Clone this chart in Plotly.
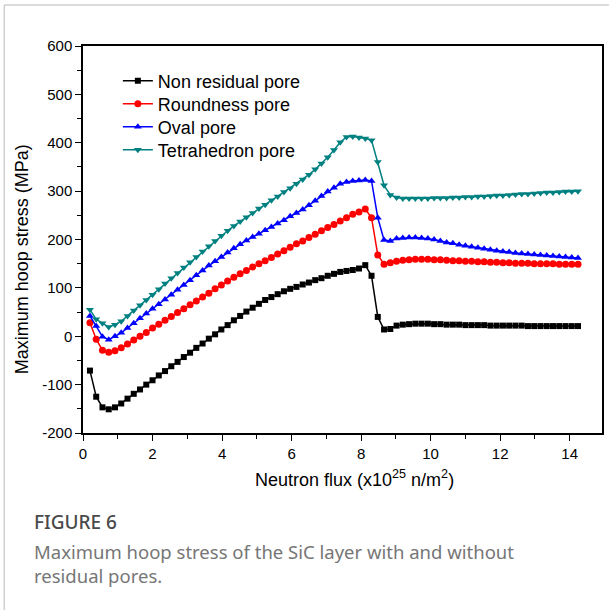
import plotly.graph_objects as go

flux = [0.20, 0.38, 0.56, 0.74, 0.92, 1.10, 1.28, 1.46, 1.64, 1.82,
        2.00, 2.18, 2.36, 2.54, 2.72, 2.90, 3.08, 3.26, 3.44, 3.62,
        3.80, 3.98, 4.16, 4.34, 4.52, 4.70, 4.88, 5.06, 5.24, 5.42,
        5.60, 5.78, 5.96, 6.14, 6.32, 6.50, 6.68, 6.86, 7.04, 7.22,
        7.40, 7.58, 7.76, 7.94, 8.12, 8.30, 8.48, 8.66, 8.84, 9.02,
        9.20, 9.38, 9.56, 9.74, 9.92, 10.10, 10.28, 10.46, 10.64, 10.82,
        11.00, 11.18, 11.36, 11.54, 11.72, 11.90, 12.08, 12.26, 12.44, 12.62,
        12.80, 12.98, 13.16, 13.34, 13.52, 13.70, 13.88, 14.06, 14.24]

non_residual = [-71, -125, -147, -151, -147, -139, -129, -119, -110, -100,
                -91, -81, -72, -62, -53, -43, -34, -24, -15, -5,
                4, 14, 23, 33, 42, 51, 59, 67, 75, 81,
                87, 93, 98, 102, 107, 111, 116, 120, 125, 129,
                133, 135, 137, 140, 147, 125, 40, 14, 15, 22,
                24, 25, 26, 26, 26, 25, 25, 24, 24, 24,
                23, 23, 23, 23, 22, 22, 22, 22, 22, 22,
                21, 21, 21, 21, 21, 21, 21, 21, 21]

roundness = [28, -6, -29, -33, -30, -24, -16, -8, 0, 8,
             17, 25, 33, 41, 49, 57, 65, 73, 81, 89,
             98, 106, 114, 122, 129, 136, 143, 150, 156, 163,
             170, 177, 184, 191, 197, 204, 211, 218, 225, 231,
             238, 245, 252, 257, 263, 245, 168, 149, 152, 155,
             157, 158, 159, 159, 159, 158, 158, 157, 156, 156,
             155, 155, 154, 154, 153, 153, 152, 152, 151, 151,
             151, 150, 150, 150, 150, 149, 149, 149, 149]

oval = [42, 21, -1, -7, 0, 7, 17, 27, 37, 47,
        57, 66, 76, 86, 96, 106, 116, 126, 136, 146,
        155, 164, 173, 182, 190, 198, 205, 212, 219, 226,
        233, 240, 248, 255, 262, 271, 280, 290, 299, 307,
        315, 319, 321, 322, 323, 321, 245, 199, 197, 202,
        203, 204, 204, 203, 202, 200, 197, 194, 192, 189,
        187, 185, 183, 181, 179, 177, 175, 174, 172, 171,
        170, 169, 168, 167, 166, 165, 164, 163, 162]

tetrahedron = [55, 35, 27, 19, 24, 31, 42, 53, 64, 75,
               86, 97, 109, 120, 131, 142, 153, 164, 175, 186,
               197, 208, 218, 228, 237, 246, 255, 264, 272, 281,
               289, 298, 306, 315, 324, 334, 345, 357, 370, 385,
               401, 412, 413, 411, 409, 405, 360, 312, 292, 287,
               285, 285, 285, 285, 285, 286, 286, 286, 287, 287,
               288, 288, 289, 289, 290, 291, 291, 292, 293, 294,
               294, 295, 296, 297, 297, 298, 299, 299, 300]

series_names = ["Non residual pore", "Roundness pore", "Oval pore", "Tetrahedron pore"]
series_values = [non_residual, roundness, oval, tetrahedron]
colors = ["#000000", "#ff0000", "#0000ff", "#008080"]
symbols = ["square", "circle", "triangle-up", "triangle-down"]
sizes = [6, 7, 7, 7]

x_ticks = [0, 2, 4, 6, 8, 10, 12, 14]
x_tick_labels = ["0", "2", "4", "6", "8", "10", "12", "14"]
y_ticks = [-200, -100, 0, 100, 200, 300, 400, 500, 600]
y_tick_labels = ["-200", "-100", "0", "100", "200", "300", "400", "500", "600"]

W, H = 611, 610
L, R, T, B = 83, 604, 46, 433

def px(p):
    return (p - L) / (R - L)

def py(q):
    return (B - q) / (B - T)

AX_FONT = "Liberation Sans, Arial, sans-serif"
CAP_FONT = "Noto Sans, Open Sans, sans-serif"

legend_ids = ["legend", "legend2", "legend3", "legend4"]
legend_rows = [81, 104, 127, 150]

fig = go.Figure()
for name, vals, c, s, sz, lg in zip(series_names, series_values, colors, symbols, sizes, legend_ids):
    fig.add_trace(go.Scatter(
        x=flux, y=vals, name=name, mode="lines+markers",
        line=dict(color=c, width=1.5),
        marker=dict(symbol=s, size=sz, color=c, line=dict(width=0)),
        legend=lg,
    ))

axis_common = dict(
    showline=True, linecolor="black", linewidth=1.5, mirror=True,
    ticks="outside", ticklen=6, tickwidth=1.2, tickcolor="black",
    showgrid=False, zeroline=False,
    tickfont=dict(family=AX_FONT, size=15, color="black"),
    minor=dict(ticks="outside", ticklen=4, tickwidth=1.2, tickcolor="black", showgrid=False),
)

fig.update_xaxes(
    range=[0, 14.93], tickvals=x_ticks, ticktext=x_tick_labels,
    minor_dtick=1, minor_tick0=0,
    **axis_common,
)
fig.update_yaxes(
    range=[-200, 600], tickvals=y_ticks, ticktext=y_tick_labels,
    minor_dtick=50, minor_tick0=0,
    **axis_common,
)

legend_layout = {}
for lg, row in zip(legend_ids, legend_rows):
    legend_layout[lg] = dict(
        x=px(118), y=py(row), xanchor="left", yanchor="middle",
        bgcolor="rgba(0,0,0,0)", borderwidth=0,
        font=dict(family=AX_FONT, size=18, color="black"),
        itemwidth=30,
    )

fig.update_layout(
    width=W, height=H,
    margin=dict(l=L, r=W - R, t=T, b=H - B),
    paper_bgcolor="white", plot_bgcolor="white",
    showlegend=True,
    **legend_layout,
    shapes=[
        dict(type="line", xref="paper", yref="paper", x0=px(4), x1=px(611), y0=py(5), y1=py(5),
             line=dict(color="#cfcfcf", width=1.5)),
        dict(type="line", xref="paper", yref="paper", x0=px(4), x1=px(4), y0=py(5), y1=py(610),
             line=dict(color="#cfcfcf", width=1.5)),
    ],
    annotations=[
        dict(text="Neutron flux (x10<sup>25</sup> n/m<sup>2</sup>)", xref="paper", yref="paper",
             x=px(355.5), y=py(478), xanchor="center", yanchor="middle", showarrow=False,
             font=dict(family=AX_FONT, size=18, color="black")),
        dict(text="Maximum hoop stress (MPa)", xref="paper", yref="paper",
             x=px(22), y=py(259), xanchor="center", yanchor="middle", showarrow=False,
             textangle=-90, font=dict(family=AX_FONT, size=18, color="black")),
        dict(text="FIGURE 6", xref="paper", yref="paper", x=px(32), y=py(522),
             xanchor="left", yanchor="middle", showarrow=False,
             font=dict(family=CAP_FONT, size=19, color="#4a4a4a", weight=500)),
        dict(text="Maximum hoop stress of the SiC layer with and without<br>residual pores.",
             xref="paper", yref="paper", x=px(32), y=py(537),
             xanchor="left", yanchor="top", align="left", showarrow=False,
             font=dict(family=CAP_FONT, size=18.5, color="#767676")),
    ],
)

fig.write_html("out.html",
               config={"displayModeBar": False},
               post_script="document.body.style.margin='0';document.body.style.overflow='hidden';")
